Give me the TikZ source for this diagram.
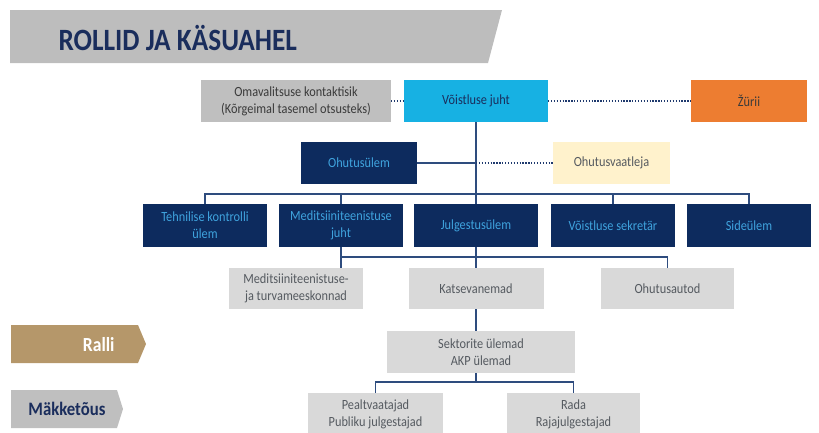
\documentclass[tikz,border=0pt]{standalone}
\usepackage{fontspec}
\setmainfont{Carlito}[FakeStretch=0.88]
\usepackage{tikz}
\usetikzlibrary{calc}

\definecolor{bannerc}{HTML}{BDBDBD}
\definecolor{titlec}{HTML}{1A2D5C}
\definecolor{greyc}{HTML}{BFBFBF}
\definecolor{lightc}{HTML}{D9D9D9}
\definecolor{cyanc}{HTML}{17B1E3}
\definecolor{orangec}{HTML}{ED7D31}
\definecolor{creamc}{HTML}{FFF2CC}
\definecolor{navyc}{HTML}{0D2B5E}
\definecolor{skytext}{HTML}{3FA3DE}
\definecolor{greytext}{HTML}{555A60}
\definecolor{darktext}{HTML}{3A3A3A}
\definecolor{linkc}{HTML}{2E4C7E}
\definecolor{dotc}{HTML}{1F3A6E}
\definecolor{rallic}{HTML}{B5976A}

\begin{document}
\begin{tikzpicture}[x=1pt,y=-1pt]
      \tikzset{rolebox/.style={rectangle,
          inner sep=0pt,
          outer sep=0pt,
          minimum height=42pt,
          align=center,
          font=\fontsize{14}{17}\selectfont,
          fill=#1},
        navy role/.style={rolebox=navyc, text=skytext,
          minimum width=124pt, minimum height=43pt},
        link/.style={line width=1.2pt, draw=linkc},
        dots/.style={line width=2.4pt, draw=dotc, dash pattern=on 1.3pt off 1.6pt}
      }
      \clip (0,0) rectangle (819,432);
      \fill [bannerc] (10,10) -- (502,10) -- (488,63) -- (10,63) -- cycle;
      \node [anchor=base west, text=titlec, font=\bfseries\fontsize{31}{31}\selectfont] (title) at (55,50) {ROLLID JA KÄSUAHEL};

      \node [rolebox=greyc, text=darktext, minimum width=190pt] (oma) at (296,101) {Omavalitsuse kontaktisik\\(Kõrgeimal tasemel otsusteks)};
      \node [rolebox=cyanc, text=titlec, minimum width=144pt] (vj) at (476,101) {Võistluse juht};
      \node [rolebox=orangec, text=darktext, minimum width=116pt] (zur) at (749,101) {Žürii};
      \node [navy role, minimum width=116pt, minimum height=42pt] (ohu) at (359,163) {Ohutusülem};
      \node [rolebox=creamc, text=greytext, minimum width=117pt] (ova) at (611.5,163) {Ohutusvaatleja};

      \node [navy role] (tk) at (205,225.5) {Tehnilise kontrolli\\ülem};
      \node [navy role] (mj) at (341,225.5) {Meditsiiniteenistuse\\juht};
      \node [navy role] (jul) at (476,225.5) {Julgestusülem};
      \node [navy role] (sek) at (613,225.5) {Võistluse sekretär};
      \node [navy role] (side) at (749,225.5) {Sideülem};

      \node [rolebox=lightc, text=greytext, minimum width=134pt, minimum height=41pt] (mtm) at (296,288.5) {Meditsiiniteenistuse-\\ja turvameeskonnad};
      \node [rolebox=lightc, text=greytext, minimum width=135pt, minimum height=41pt] (kat) at (476,288.5) {Katsevanemad};
      \node [rolebox=lightc, text=greytext, minimum width=133pt, minimum height=41pt] (oa) at (667.5,288.5) {Ohutusautod};
      \node [rolebox=lightc, text=greytext, minimum width=188pt] (sekt) at (481,352) {Sektorite ülemad\\AKP ülemad};
      \node [rolebox=lightc, text=greytext, minimum width=135pt] (pea) at (375.5,414) {Pealtvaatajad\\Publiku julgestajad};
      \node [rolebox=lightc, text=greytext, minimum width=133pt] (rada) at (573.5,414) {Rada\\Rajajulgestajad};

      \coordinate (b1) at (476,194);
      \coordinate (b2) at (476,257);
      \coordinate (b3) at (476,382);

      \draw [dots] (oma.east) -- (vj.west);
      \draw [dots] (vj.east) -- (zur.west);
      \draw [link] (vj.south) -- (jul.north);
      \draw [link] (ohu.east) -- (ohu.east -| vj.south);
      \draw [dots] (ohu.east -| vj.south) -- (ova.west);

      \draw [link] (tk.north) |- (b1) -| (side.north);
      \draw [link] (mj.north) -- (mj.north |- b1);
      \draw [link] (sek.north) -- (sek.north |- b1);

      \draw [link] (mj.south) |- (b2) -| (oa.north);
      \draw [link] (mj.south) -- (mj.south |- mtm.north);
      \draw [link] (jul.south) -- (kat.north);
      \draw [link] (kat.south) -- (kat.south |- sekt.north);
      \draw [link] (kat.south |- sekt.south) -- (b3);
      \draw [link] (pea.north) |- (b3) -| (rada.north);

      \fill [rallic] (11,325) -- (138,325) -- (146,344) -- (138,363) -- (11,363) -- cycle;
      \node [anchor=base east, text=white, font=\bfseries\fontsize{20}{20}\selectfont] (ralli) at (118,351) {Ralli};
      \fill [greyc] (11,390) -- (117,390) -- (123,409) -- (117,428) -- (11,428) -- cycle;
      \node [anchor=base east, text=titlec, font=\bfseries\fontsize{19}{19}\selectfont] (makk) at (109,415) {Mäkketõus};
    \end{tikzpicture}
\end{document}
